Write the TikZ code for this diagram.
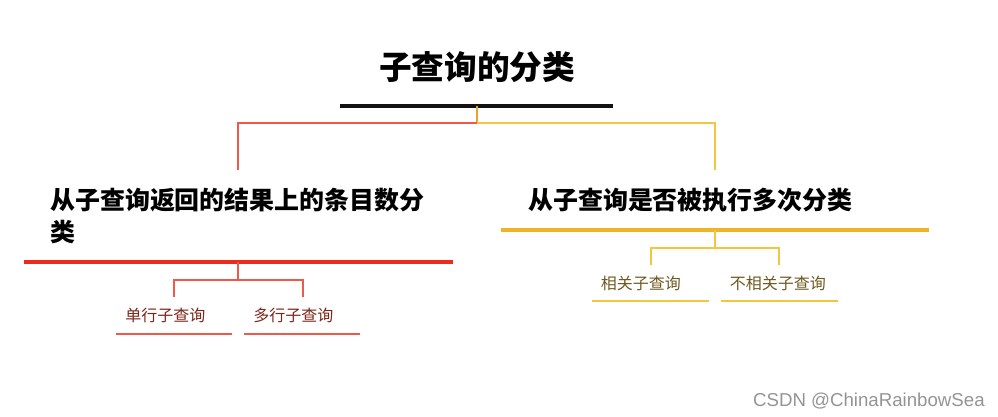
\documentclass[tikz,border=0pt]{standalone}
\usepackage{fontspec}
\newfontfamily\cjk{Noto Sans CJK SC}
\usetikzlibrary{positioning}
\definecolor{barred}{HTML}{EE2A1B}
\definecolor{baryellow}{HTML}{F0B325}
\definecolor{linkred}{HTML}{F0584A}
\definecolor{linkyellow}{HTML}{F5C53E}
\definecolor{stemorange}{HTML}{F0A030}
\definecolor{txtred}{HTML}{7A2619}
\definecolor{txtyellow}{HTML}{6E5820}

\begin{document}
\begin{tikzpicture}[
  x=0.75pt,y=-0.75pt,
  title/.style={font=\cjk\bfseries\fontsize{24.5}{28}\selectfont,inner sep=0pt},
  head/.style={font=\cjk\bfseries\fontsize{18.7}{24}\selectfont,anchor=west,inner sep=0pt},
  leaf/.style={font=\cjk\fontsize{12}{14}\selectfont,anchor=west,inner sep=0pt},
  bar/.style={line width=2.3pt},
  link/.style={line width=0.8pt},
  tab/.style={line width=0.8pt}
]
\useasboundingbox (0,0) rectangle (998,417);

% root
\node[title] (root) at (477,67) {子查询的分类};
\coordinate (rootL) at (340,106);
\coordinate (rootR) at (613,106);
\coordinate (rootM) at (477,106);
\coordinate (fork) at (477,123);
\draw[bar,black!93] (rootL) -- (rootR);
\draw[link,stemorange] (rootM) -- (fork);

% (a) rows returned
\coordinate (Atop) at (238,170);
\draw[link,linkred] (fork) -| (Atop);
\node[head] (A) at (50,200) {从子查询返回的结果上的条目数分};
\node[head] (A2) at (50,232) {类};
\coordinate (AbarL) at (24,262);
\coordinate (AbarR) at (453,262);
\coordinate (Abar) at (238,262);
\coordinate (Afork) at (238,280);
\draw[bar,barred] (AbarL) -- (AbarR);
\draw[link,linkred] (Abar) -- (Afork);

\foreach \n/\x/\c/\t in {a1/116/174/单行子查询,a2/244/303/多行子查询}{
  \coordinate (\n top) at (\c,297);
  \draw[link,linkred] (Afork) -| (\n top);
  \node[leaf,txtred] (\n) at (\x+9,315) {\t};
  \draw[tab,linkred] (\x,334) -- ++(116,0);
}

% (b) executed many times
\coordinate (Btop) at (715,170);
\draw[link,linkyellow] (fork) -| (Btop);
\node[head] (B) at (528,200) {从子查询是否被执行多次分类};
\coordinate (BbarL) at (501,230);
\coordinate (BbarR) at (929,230);
\coordinate (Bbar) at (715,230);
\coordinate (Bfork) at (715,248);
\draw[bar,baryellow] (BbarL) -- (BbarR);
\draw[link,linkyellow] (Bbar) -- (Bfork);

\foreach \n/\x/\c/\t in {b1/592/651/相关子查询,b2/721/779/不相关子查询}{
  \coordinate (\n top) at (\c,265);
  \draw[link,linkyellow] (Bfork) -| (\n top);
  \node[leaf,txtyellow] (\n) at (\x+8.5,283) {\t};
  \draw[tab,linkyellow] (\x,301) -- ++(117,0);
}

% watermark
\node[font=\fontspec{Liberation Sans}\fontsize{14}{16}\selectfont,text=black!42,anchor=east,inner sep=0pt] (mark) at (985,401) {CSDN @ChinaRainbowSea};

\end{tikzpicture}
\end{document}
